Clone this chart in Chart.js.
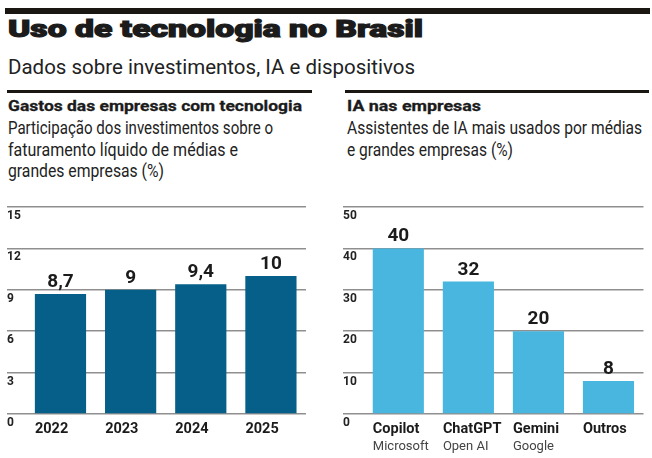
<!DOCTYPE html>
<html lang="pt-BR">
<head>
<meta charset="utf-8">
<script src="https://cdn.jsdelivr.net/npm/chart.js@4.4.1/dist/chart.umd.min.js"></script>
<style>
  body { margin: 0; background: #fff; }
  #page { position: relative; width: 652px; height: 458px; overflow: hidden; font-family: Roboto, sans-serif; color: #1b1b1b; }
  .t { position: absolute; white-space: nowrap; line-height: 1; transform-origin: 0 0; }
  .rule { position: absolute; background: #1a1612; }
  canvas { position: absolute; top: 195px; }
</style>
</head>
<body>
<div id="page">
  <div class="rule" style="left:5px;top:8px;width:645px;height:6px"></div>
  <div class="t" data-w="415" style="left:8px;top:17.6px;font-size:23px;font-weight:900;-webkit-text-stroke:1.1px #1b1b1b">Uso de tecnologia no Brasil</div>
  <div class="t" data-w="407" style="left:8px;top:57.6px;font-size:19.5px;color:#222">Dados sobre investimentos, IA e dispositivos</div>

  <div class="rule" style="left:7px;top:90px;width:305px;height:3px"></div>
  <div class="rule" style="left:345px;top:90px;width:304px;height:3px"></div>

  <div class="t" data-w="294" style="left:8px;top:99.4px;font-size:15px;font-weight:bold;-webkit-text-stroke:0.3px #1b1b1b">Gastos das empresas com tecnologia</div>
  <div class="t" data-w="265" style="left:8px;top:118.8px;font-size:18px;color:#222">Participação dos investimentos sobre o</div>
  <div class="t" data-w="230" style="left:8px;top:140.8px;font-size:18px;color:#222">faturamento líquido de médias e</div>
  <div class="t" data-w="156" style="left:8px;top:161.8px;font-size:18px;color:#222">grandes empresas (%)</div>

  <div class="t" data-w="134" style="left:347px;top:99.4px;font-size:15px;font-weight:bold;-webkit-text-stroke:0.3px #1b1b1b">IA nas empresas</div>
  <div class="t" data-w="295" style="left:347px;top:118.8px;font-size:18px;color:#222">Assistentes de IA mais usados por médias</div>
  <div class="t" data-w="166" style="left:347px;top:140.8px;font-size:18px;color:#222">e grandes empresas (%)</div>

  <canvas id="gastosChart" width="320" height="263" style="left:0"></canvas>
  <canvas id="iaChart" width="322" height="263" style="left:330px"></canvas>
</div>

<script>
// Gastos das empresas com tecnologia (% do faturamento)
const anos = ['2022', '2023', '2024', '2025'];
const gastos = [8.7, 9, 9.4, 10];
const gastosMax = 15;
const gastosStep = 3;

// Assistentes de IA mais usados (%)
const assistentes = ['Copilot', 'ChatGPT', 'Gemini', 'Outros'];
const fabricantes = ['Microsoft', 'Open AI', 'Google', ''];
const usoIA = [40, 32, 20, 8];
const usoMax = 50;
const usoStep = 10;

// squeeze/stretch headings to the width they have in the print layout
document.querySelectorAll('.t[data-w]').forEach(el => {
  const w = el.getBoundingClientRect().width;
  el.style.transform = `scaleX(${Number(el.dataset.w) / w})`;
});

const valueLabels = {
  id: 'valueLabels',
  afterDatasetsDraw(chart) {
    const ctx = chart.ctx;
    const values = chart.data.datasets[0].data;
    ctx.save();
    ctx.font = 'bold 19px Roboto';
    ctx.fillStyle = '#1b1b1b';
    ctx.textAlign = 'center';
    ctx.textBaseline = 'alphabetic';
    chart.getDatasetMeta(0).data.forEach((bar, i) => {
      ctx.fillText(String(values[i]).replace('.', ','), bar.x, bar.y - 7);
    });
    ctx.restore();
  }
};

function barChart(id, labels, subLabels, values, color, max, step, pad, axisWidth) {
  const scales = {
    x: {
      position: 'bottom',
      weight: 0,
      grid: { display: false, drawTicks: false },
      border: { display: false },
      ticks: {
        align: 'start',
        labelOffset: -25.5,
        padding: 7,
        color: '#1b1b1b',
        font: { family: 'Roboto', size: 14.5, weight: 'bold' }
      },
      afterFit: s => { s.height = subLabels ? 24 : 44; s.paddingLeft = 0; s.paddingRight = 0; }
    },
    y: {
      min: 0,
      max: max,
      ticks: {
        stepSize: step,
        labelOffset: 9,
        crossAlign: 'far',
        color: '#222',
        font: { family: 'Roboto', size: 12, weight: 'bold' }
      },
      grid: { color: '#8f8f8f', lineWidth: 1.5, drawTicks: true, tickLength: axisWidth },
      border: { display: false },
      afterFit: s => { s.width = axisWidth; s.paddingTop = 0; s.paddingBottom = 0; }
    }
  };
  if (subLabels) {
    scales.x2 = {
      type: 'category',
      labels: subLabels,
      offset: true,
      position: 'bottom',
      weight: 1,
      grid: { display: false, drawTicks: false },
      border: { display: false },
      ticks: {
        align: 'start',
        labelOffset: -25.5,
        padding: 1,
        color: '#444',
        font: { family: 'Roboto', size: 13 }
      },
      afterFit: s => { s.height = 20; s.paddingLeft = 0; s.paddingRight = 0; }
    };
  }

  return new Chart(document.getElementById(id).getContext('2d'), {
    type: 'bar',
    data: {
      labels: labels,
      datasets: [{
        data: values,
        backgroundColor: color,
        barPercentage: 0.73,
        categoryPercentage: 1,
        xAxisID: 'x'
      }]
    },
    options: {
      responsive: false,
      animation: false,
      layout: { padding: pad },
      plugins: { legend: { display: false }, tooltip: { enabled: false } },
      scales: scales
    },
    plugins: [valueLabels]
  });
}

barChart('gastosChart', anos, null, gastos, '#055f88', gastosMax, gastosStep,
  { left: 7, right: 14, top: 12, bottom: 0 }, 18.4);
barChart('iaChart', assistentes, fabricantes, usoIA, '#48b6df', usoMax, usoStep,
  { left: 13, right: 8.5, top: 12, bottom: 0 }, 20.3);
</script>
</body>
</html>
